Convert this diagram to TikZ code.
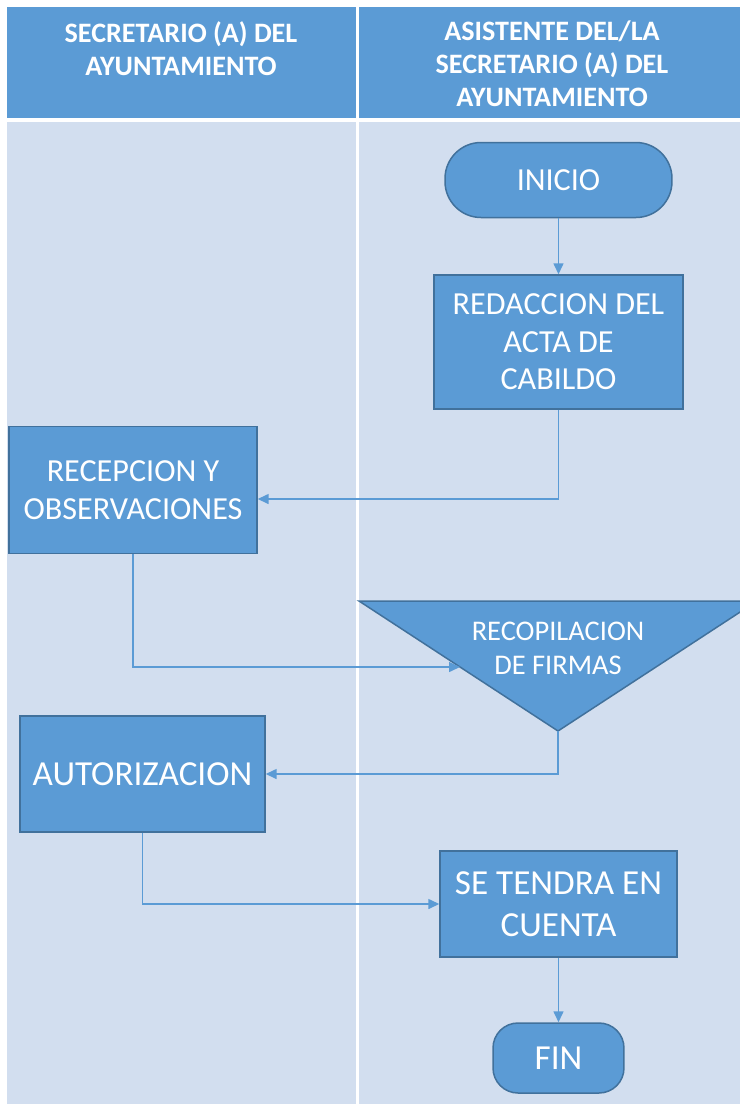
\documentclass[tikz,border=0pt]{standalone}
\usepackage{fontspec}
\setmainfont{Carlito}
\usetikzlibrary{arrows.meta}
\definecolor{hdrblue}{HTML}{5B9BD5}
\definecolor{lanebg}{HTML}{D2DEEF}
\definecolor{boxline}{HTML}{41719C}
\tikzset{
  procbox/.style={draw=boxline, line width=0.03cm, fill=hdrblue, text=white, align=center, inner sep=0pt},
  termbox/.style={procbox, rounded corners=0.72cm},
  bigtext/.style={font=\fontsize{20}{24}\selectfont},
  flowline/.style={draw=hdrblue, line width=0.03cm, -{Triangle[length=0.22cm,width=0.2cm]}},
  lanehead/.style={text=white, align=center, anchor=north, inner sep=0pt, font=\fontsize{16}{18.8}\selectfont\bfseries},
}
\newcommand{\boxtext}{\fontsize{18.3}{21.3}\selectfont}
\begin{document}
\begin{tikzpicture}[x=0.02cm, y=-0.02cm]
                \useasboundingbox (0,0) rectangle (740,1107);
                \clip (0,0) rectangle (740,1107);
                {\boxtext

                % Drawing lanes
                \fill [hdrblue] (7,7) rectangle (356,118);%
                \fill [hdrblue] (359,7) rectangle (740,118);%
                \fill [lanebg] (7,122) rectangle (740,1104);%
                \draw [white, line width=0.05cm] (357.5,122) -- (357.5,1104);%

                % Marking lane titles
                \node [lanehead] (headleft) at (181,21) {SECRETARIO (A) DEL\\AYUNTAMIENTO};%
                \node [lanehead] (headright) at (552,20) {ASISTENTE DEL/LA\\SECRETARIO (A) DEL\\AYUNTAMIENTO};%

                % Drawing steps
                \node [termbox, minimum width=4.54cm, minimum height=1.5cm] (inicio) at (558.5,180) {INICIO};%
                \node [procbox, minimum width=4.98cm, minimum height=2.68cm] (redaccion) at (558.5,342) {REDACCION DEL\\ACTA DE\\CABILDO};%
                \node [procbox, minimum width=4.96cm, minimum height=2.54cm] (recepcion) at (133,490) {RECEPCION Y\\OBSERVACIONES};%
                \node [procbox, bigtext, minimum width=4.9cm, minimum height=2.32cm] (autorizacion) at (142.5,774) {AUTORIZACION};%
                \node [procbox, bigtext, minimum width=4.74cm, minimum height=2.12cm] (tendra) at (558.5,904) {SE TENDRA EN\\CUENTA};%
                \node [termbox, bigtext, rounded corners=0.5cm, minimum width=2.62cm, minimum height=1.4cm] (fin) at (558.5,1058) {FIN};%

                % Drawing triangle of firmas
                \coordinate (firmasleft) at (359,601);%
                \coordinate (firmasright) at (757,601);%
                \coordinate (firmasapex) at (558,731);%
                \coordinate (firmasin) at (460,667);%
                \draw [fill=hdrblue, draw=boxline, line width=0.03cm] (firmasleft) -- (firmasright) -- (firmasapex) -- cycle;%
                \node [text=white, align=center, inner sep=0pt, font=\fontsize{16.2}{19.3}\selectfont] (recopilacion) at (558,648) {RECOPILACION\\DE FIRMAS};%

                % Drawing connectors
                \draw [flowline] (inicio) -- (redaccion);%
                \draw [flowline] (redaccion.south) |- ([yshift=-0.18cm]recepcion.east);%
                \draw [flowline] (recepcion.south) |- (firmasin);%
                \draw [flowline] (firmasapex) |- (autorizacion.east);%
                \draw [flowline] (autorizacion.south) |- (tendra.west);%
                \draw [flowline] (tendra) -- (fin);%
                }
\end{tikzpicture}
\end{document}
